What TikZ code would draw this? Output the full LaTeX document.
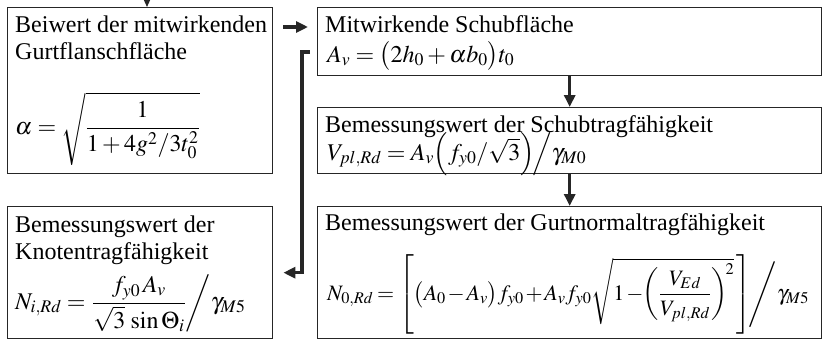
\documentclass[tikz,border=0pt]{standalone}
\usepackage{amsmath}
\usepackage{mathptmx}
\usepackage[no-math]{fontspec}
\setmainfont{Liberation Serif}
\usetikzlibrary{
  arrows.meta,
  positioning,
  calc
}
\definecolor{isFrame}{HTML}{262626}

\tikzset{
  frame/.style={draw=isFrame, line width=1.4pt, inner sep=0pt, anchor=north west},
  title/.style={font=\fontsize{24}{27}\selectfont, align=left, anchor=base west, inner sep=0pt},
  formula/.style={font=\fontsize{24}{27}\selectfont, anchor=base west, inner sep=0pt},
  flow/.style={draw=isFrame, line width=3.2pt, -{Triangle[length=12pt,width=11pt]}},
  feed/.style={draw=isFrame, line width=1.2pt, -{Triangle[length=7pt,width=6pt]}}
}

\begin{document}
\begin{tikzpicture}[x=1pt, y=-1pt]
  \useasboundingbox (0,0) rectangle (823,340);
  % frames
  \node[frame, minimum width=265pt, minimum height=166pt] (beiwert) at (7,7) {};
  \node[frame, minimum width=265pt, minimum height=132pt] (knoten) at (7,206) {};
  \node[frame, minimum width=504pt, minimum height=68pt] (schub) at (317,7) {};
  \node[frame, minimum width=504pt, minimum height=66pt] (schubtrag) at (317,107) {};
  \node[frame, minimum width=504pt, minimum height=132pt] (gurt) at (317,206) {};

  % texts (two-line titles: base = last line)
  \node[title] (beiwertText) at ([shift={(8,52)}]beiwert.north west)
    {Beiwert der mitwirkenden\\Gurtflanschfläche};
  \node[formula] (beiwertFormel) at ([shift={(8,127)}]beiwert.north west)
    {$\alpha = \sqrt{\dfrac{1}{1+4g^{2}/3t_0^{2}}}$};

  \node[title] (knotenText) at ([shift={(8,53)}]knoten.north west)
    {Bemessungswert der\\Knotentragfähigkeit};
  \node[formula] (knotenFormel) at ([shift={(8,103)}]knoten.north west)
    {$N_{i,Rd} = \left.\dfrac{f_{y0}\,A_v}{\sqrt{3}\,\sin\Theta_i}\middle/\gamma_{M5}\right.$};

  \node[title] (schubText) at ([shift={(8,25)}]schub.north west)
    {Mitwirkende Schubfläche};
  \node[formula] (schubFormel) at ([shift={(10,55)}]schub.north west)
    {$A_v = \big(2h_0 + \alpha b_0\big)t_0$};

  \node[title] (schubtragText) at ([shift={(8,25)}]schubtrag.north west)
    {Bemessungswert der Schubtragfähigkeit};
  \node[formula] (schubtragFormel) at ([shift={(10,53)}]schubtrag.north west)
    {$V_{pl,Rd} = A_v\Big(f_{y0}/\sqrt{3}\Big)\!\Big/\gamma_{M0}$};

  \node[title] (gurtText) at ([shift={(8,24)}]gurt.north west)
    {Bemessungswert der Gurtnormaltragfähigkeit};
  \node[formula, font=\fontsize{22}{26}\selectfont] (gurtFormel) at ([shift={(10,94)}]gurt.north west)
    {$\medmuskip=1.5mu \thickmuskip=3mu
     N_{0,Rd} = \left.\left[\big(A_0 - A_v\big)f_{y0} + A_v f_{y0}\sqrt{1-\!\left(\vphantom{\rule[-22pt]{0pt}{34pt}}\dfrac{V_{Ed}}{V_{pl,Rd}}\right)^{\!2}}\,\right]\!\middle/\gamma_{M5}\right.$};

  % connectors
  \coordinate (zulauf) at (147,-2);
  \draw[feed] (zulauf) -- (zulauf |- beiwert.north);
  \draw[flow] ([shift={(10,20)}]beiwert.north east) -- ([shift={(-9,20)}]schub.north west);
  \draw[flow] (schub.south) -- (schubtrag.north);
  \draw[flow] (schubtrag.south) -- (gurt.north);
  \coordinate (abzweig) at (310,52);
  \draw[flow] (abzweig) -- ++(-8,0) |- ([xshift=10pt]knoten.east);
\end{tikzpicture}
\end{document}
